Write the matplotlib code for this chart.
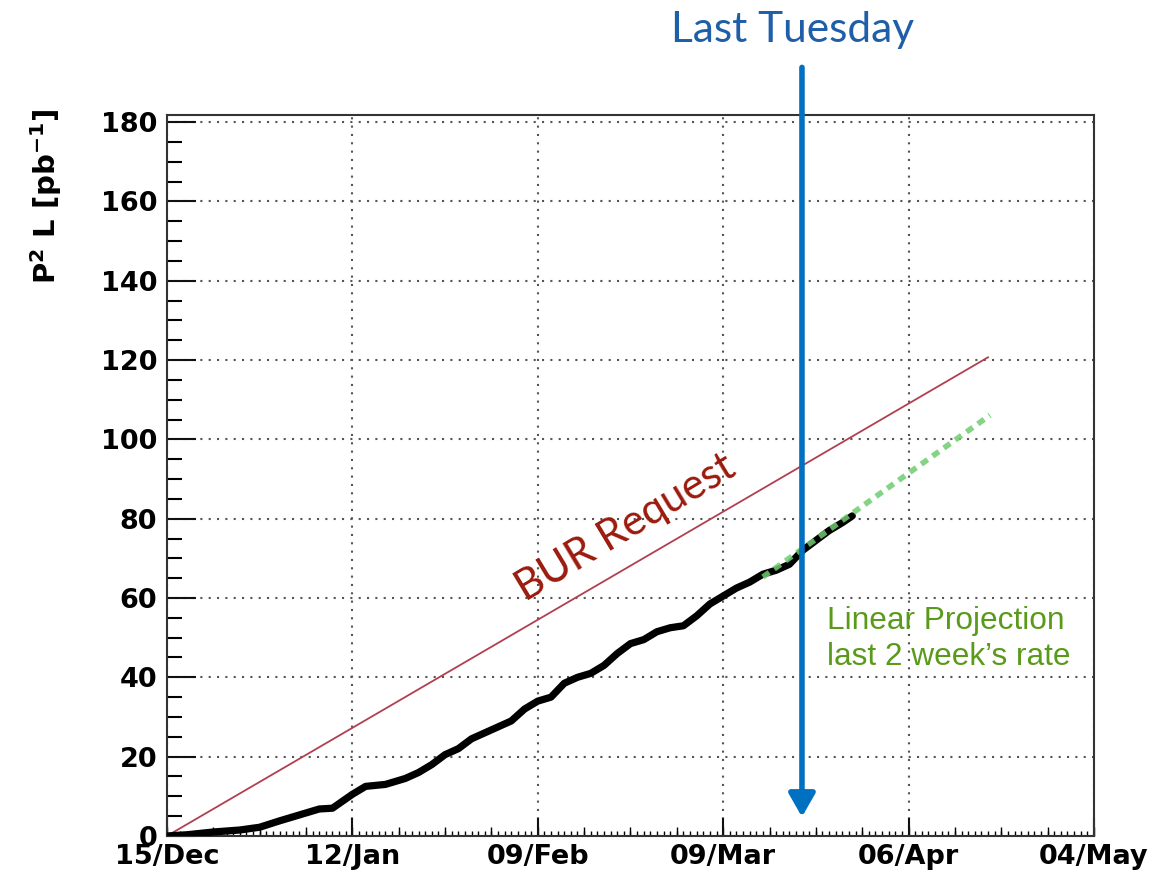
import numpy as np
import matplotlib
matplotlib.use('Agg')
import matplotlib.pyplot as plt

# days since 15/Dec and integrated P^2 L [pb^-1]
days = [0, 3, 7, 11, 14, 17, 20, 23, 25, 28, 30, 33, 36, 38, 40, 42, 44, 46, 48,
        50, 52, 54, 56, 58, 60, 62, 64, 66, 68, 70, 72, 74, 76, 78, 80, 82, 84,
        86, 88, 90, 92, 94, 96, 98, 100, 102, 103.5]
lumi = [0, 0.3, 1.0, 1.5, 2.2, 3.8, 5.3, 6.8, 7.0, 10.5, 12.5, 13.0, 14.5, 16.0,
        18.0, 20.5, 22.0, 24.5, 26.0, 27.5, 29.0, 32.0, 34.0, 35.0, 38.5, 40.0,
        41.0, 43.0, 46.0, 48.5, 49.5, 51.5, 52.5, 53.0, 55.5, 58.5, 60.5, 62.5,
        64.0, 66.0, 67.0, 68.5, 72.0, 74.5, 77.0, 79.0, 80.7]

bur_days = [0, 124.0]
bur_lumi = [0, 120.7]

proj_days = [90.0, 124.3]
proj_lumi = [65.3, 106.1]

tick_days = [0, 28, 56, 84, 112, 140]
tick_labels = ['15/Dec', '12/Jan', '09/Feb', '09/Mar', '06/Apr', '04/May']

last_tuesday = 95.9

fig = plt.figure(figsize=(11.53, 8.77), dpi=100)
ax = fig.add_axes([0.1448, 0.0468, 0.8040, 0.8221])

ax.plot(bur_days, bur_lumi, color='#b04050', lw=1.3, zorder=3)
ax.plot(days, lumi, color='black', lw=5.2, solid_capstyle='round',
        solid_joinstyle='round', zorder=4)
ax.plot(proj_days, proj_lumi, color='#70cc70', lw=4, alpha=0.85,
        linestyle=(0, (1.4, 1.1)), zorder=5)

ax.set_xlim(0, 140)
ax.set_ylim(0, 181.8)
ax.set_xticks(tick_days)
ax.set_xticklabels(tick_labels)
ax.set_xticks(np.arange(0, 141, 1), minor=True)
ax.set_yticks(np.arange(0, 181, 20))
ax.set_yticks(np.arange(0, 181, 5), minor=True)

ax.tick_params(axis='both', which='major', direction='in', labelsize=19.5,
               width=1.5, color='#111111')
ax.tick_params(axis='y', which='major', length=21, pad=7)
ax.tick_params(axis='y', which='minor', direction='in', length=10.5, width=1.5)
ax.tick_params(axis='x', which='major', length=13, pad=6)
ax.tick_params(axis='x', which='minor', direction='in', length=3.5, width=1)
for lab in ax.get_xticklabels() + ax.get_yticklabels():
    lab.set_fontweight('bold')
    lab.set_family('DejaVu Sans')

# weekly medium ticks
sec = ax.secondary_xaxis('bottom')
sec.set_xticks(np.arange(0, 141, 7))
sec.tick_params(direction='in', length=6.5, width=1, labelbottom=False)
sec.spines['bottom'].set_visible(False)

ax.grid(True, which='major', color='#555555', linestyle=(0, (1, 3)), lw=1.5)
for s in ax.spines.values():
    s.set_color('#333333')
    s.set_linewidth(1.5)

fig.text(0.040, 0.876, r'P$^{\mathbf{2}}$ L [pb$^{\mathbf{-1}}$]', rotation=90,
         ha='center', va='top', fontsize=21, fontweight='bold',
         family='DejaVu Sans')

ax.text(69.3, 77.6, 'BUR Request', rotation=31, rotation_mode='anchor',
        ha='center', va='center', fontsize=30.5, color='#9b1b0e', family='Lato')

ax.text(99.7, 58.0, 'Linear Projection\nlast 2 week\u2019s rate', ha='left',
        va='top', fontsize=22.8, color='#5a9a1a', family='Liberation Sans',
        linespacing=1.28)

ax.annotate('', xy=(last_tuesday, 4.8), xytext=(last_tuesday, 193.8),
            arrowprops=dict(arrowstyle='-|>,head_length=0.7,head_width=0.4',
                            mutation_scale=20, lw=4, color='#0070c0',
                            shrinkA=0, shrinkB=0),
            annotation_clip=False, zorder=6)
fig.text(0.687, 0.966, 'Last Tuesday', ha='center', va='center', fontsize=30.5,
         color='#1f5fa8', family='Lato')

fig.savefig('out.png', dpi=100)
